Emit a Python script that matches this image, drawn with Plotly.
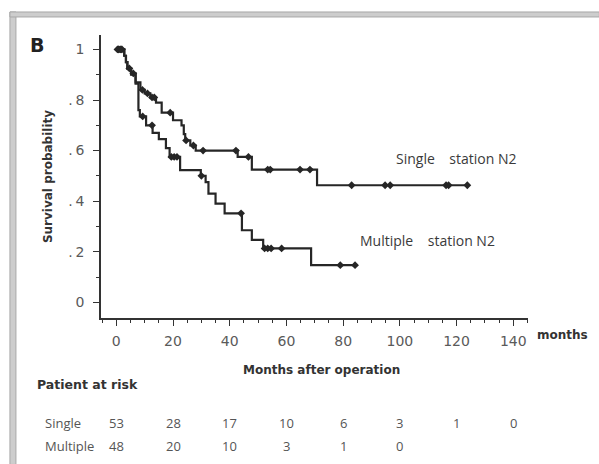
import numpy as np
import plotly.graph_objects as go

# ---- Kaplan-Meier step data (months, survival after each event) ----
single_times = [0, 2.8, 3.4, 3.9, 5.2, 6.8, 8.5, 10, 12, 14, 16, 20, 23, 23.8, 24.3,
                26.1, 28, 42.8, 47.8, 70.8]
single_surv = [1.0, 0.975, 0.95, 0.925, 0.905, 0.87, 0.84, 0.826, 0.81, 0.79, 0.75,
               0.72, 0.70, 0.665, 0.64, 0.62, 0.60, 0.575, 0.525, 0.463]
single_end = 123.8
single_censor = [0.4, 0.9, 1.4, 2.0, 4.6, 6.0, 9.2, 11.0, 12.6, 13.4, 19.0, 24.6, 27.2,
                 30.6, 42.2, 46.6, 53.4, 54.3, 64.8, 68.3, 83.0, 94.8, 96.6, 116.3,
                 117.2, 123.8]

multi_times = [0, 2.8, 3.4, 3.9, 5.2, 6.8, 7.8, 8.3, 10.5, 12.8, 15, 17.5, 18.8, 22.5,
               29.8, 31.5, 32.5, 35, 38.2, 44.3, 47.8, 51.8, 68.7]
multi_surv = [1.0, 0.975, 0.95, 0.925, 0.90, 0.865, 0.76, 0.735, 0.70, 0.67, 0.645,
              0.61, 0.575, 0.523, 0.50, 0.475, 0.43, 0.39, 0.352, 0.285, 0.247, 0.213,
              0.147]
multi_end = 84.2
multi_censor = [0.7, 1.7, 9.3, 12.6, 19.4, 20.4, 21.4, 30.0, 44.0, 52.3, 53.4, 54.6,
                58.3, 79.0, 84.2]

# ---- numbers at risk ----
risk_times = [0, 20, 40, 60, 80, 100, 120, 140]
risk_single = [53, 28, 17, 10, 6, 3, 1, 0]
risk_multi = [48, 20, 10, 3, 1, 0]

x_ticks = [0, 20, 40, 60, 80, 100, 120, 140]
y_ticks = [0, 0.2, 0.4, 0.6, 0.8, 1.0]
y_ticktext = ["0", ".\u20092", ".\u20094", ".\u20096", ".\u20098", "1"]

# ---- page geometry (pixels) ----
W, H = 599, 464
L, R, T, B = 101, 71.3, 35, 146.3
PW, PH = W - L - R, H - T - B
X_RANGE = [-5.4, 145.2]
Y_RANGE = [-0.062, 1.057]


def px(xp):
    return (xp - L) / PW


def py(yp):
    return (H - B - yp) / PH


def step_value(times, surv, t):
    i = np.searchsorted(np.asarray(times), t, side="right") - 1
    return np.asarray(surv)[i]


LINE = "#262626"
fig = go.Figure()

for times, surv, end, cens in [
    (single_times, single_surv, single_end, single_censor),
    (multi_times, multi_surv, multi_end, multi_censor),
]:
    xs = list(times) + [end]
    ys = list(surv) + [surv[-1]]
    fig.add_trace(go.Scatter(x=xs, y=ys, mode="lines", line=dict(color=LINE, width=2.2, shape="hv"),
                             showlegend=False, hoverinfo="skip"))
    fig.add_trace(go.Scatter(x=cens, y=[step_value(times, surv, c) for c in cens], mode="markers",
                             marker=dict(symbol="diamond", size=6, color=LINE),
                             showlegend=False, hoverinfo="skip"))

TICKFONT = dict(family="DejaVu Sans", size=14, color="#5a5a5a")
fig.update_xaxes(range=X_RANGE, tickvals=x_ticks, showline=True, linecolor="#333333", linewidth=1.5,
                 ticks="outside", ticklen=6, tickwidth=1.2, tickcolor="#333333", tickfont=TICKFONT,
                 ticklabelstandoff=3, showgrid=False, zeroline=False,
                 minor=dict(ticks="outside", ticklen=3, dtick=5, tickcolor="#333333", showgrid=False))
fig.update_yaxes(range=Y_RANGE, tickvals=y_ticks, ticktext=y_ticktext, showline=True,
                 linecolor="#333333", linewidth=1.5, ticks="outside", ticklen=6, tickwidth=1.2,
                 tickcolor="#333333", tickfont=TICKFONT, ticklabelstandoff=6, showgrid=False,
                 zeroline=False,
                 minor=dict(ticks="outside", ticklen=3, dtick=0.1, tickcolor="#333333", showgrid=False))

ann = []
BOLD = "DejaVu Sans"


def text(x, y, s, size=12, family=BOLD, color="#333333", bold=True, xanchor="center", angle=0,
         xref="paper"):
    ann.append(dict(x=x if xref == "x" else px(x), y=py(y), xref=xref, yref="paper", text=(f"<b>{s}</b>" if bold else s),
                    showarrow=False, xanchor=xanchor, yanchor="middle", textangle=angle,
                    font=dict(family=family, size=size, color=color)))


text(37.5, 45, "B", size=19, color="#222222")
text(48, 176, "Survival probability", size=12, angle=-90)
text(535, 335, "months", size=12, xanchor="left")
text(321, 370, "Months after operation", size=12)
text(35, 384, "Patient at risk", size=12.5, xanchor="left")

SP = "\u00a0" * 4
text(456, 158, f"Single{SP}station N2", size=14, family="Open Sans", color="#3a3a3a", bold=False)
text(427.5, 240, f"Multiple{SP}station N2", size=14, family="Open Sans", color="#3a3a3a", bold=False)

RISK = dict(size=13, family="Open Sans", color="#555555", bold=False)
text(43, 423, "Single", xanchor="left", **RISK)
text(43, 446, "Multiple", xanchor="left", **RISK)
for t, n in zip(risk_times, risk_single):
    text(t, 423, str(n), xref="x", **RISK)
for t, n in zip(risk_times, risk_multi):
    text(t, 446, str(n), xref="x", **RISK)

# grey frame along the left and top edges
shapes = [
    dict(type="rect", xref="paper", yref="paper", x0=px(10), x1=px(16), y0=py(464), y1=py(12),
         fillcolor="#cdcdcd", line=dict(color="#a8a8a8", width=1), layer="below"),
    dict(type="rect", xref="paper", yref="paper", x0=px(10), x1=px(599), y0=py(17), y1=py(12),
         fillcolor="#cdcdcd", line=dict(color="#a8a8a8", width=1), layer="below"),
]

fig.update_layout(width=W, height=H, autosize=False, margin=dict(l=L, r=R, t=T, b=B, pad=0),
                  paper_bgcolor="white", plot_bgcolor="white", annotations=ann, shapes=shapes,
                  showlegend=False)

fig.write_html("out.html")
